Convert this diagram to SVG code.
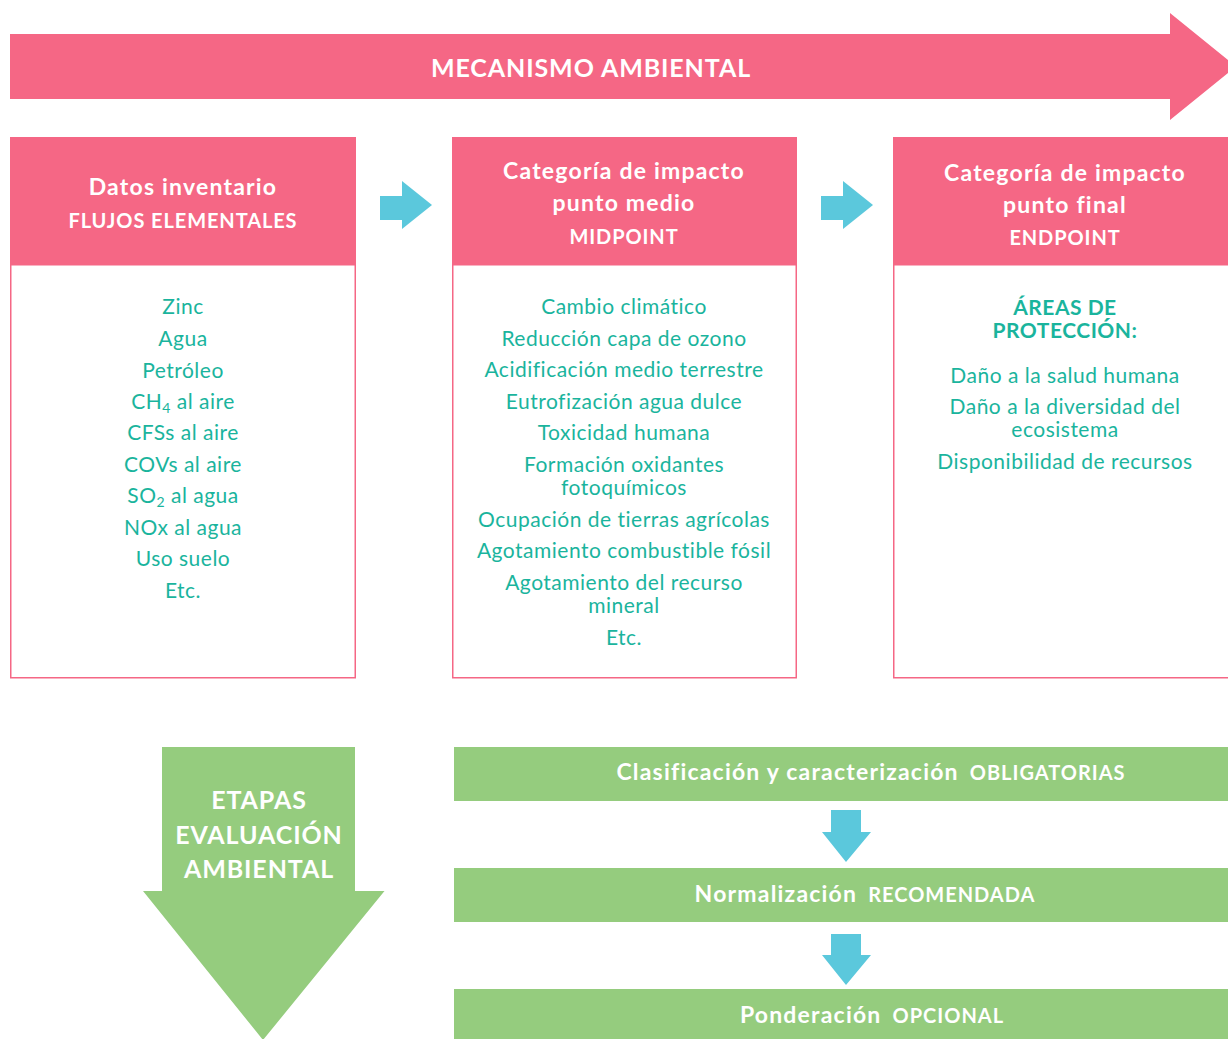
<svg xmlns="http://www.w3.org/2000/svg" width="1228" height="1039" viewBox="0 0 1228 1039">
  <style>
    .pink { fill: #F56785; }
    .green { fill: #95CC7E; }
    .cyan { fill: #5BC8DC; }
    .frame { fill: #FFFFFF; stroke: #F56785; stroke-width: 1.5; }
    .hd { font-family: Lato, "Noto Sans", "Liberation Sans", sans-serif; font-weight: 700; fill: #FFFFFF; text-anchor: middle; }
    .t1 { font-size: 23px; letter-spacing: 1.2px; }
    .t2 { font-size: 20px; letter-spacing: 0.9px; }
    .item { font-family: Lato, "Noto Sans", "Liberation Sans", sans-serif; font-weight: 400; font-size: 21px; letter-spacing: 0.5px; fill: #1AB49D; text-anchor: middle; }
    .strong { font-weight: 700; }
    .sub { font-size: 14px; }
    .step { font-size: 23px; letter-spacing: 1.2px; }
    .tag { font-size: 20px; letter-spacing: 1px; }
  </style>

  <!-- banner arrow across the top -->
  <g id="mecanismo">
    <polygon class="pink" points="10,34 1170,34 1170,13 1236,66.5 1170,120 1170,99 10,99"/>
    <text class="hd" x="591" y="77" font-size="25" letter-spacing="0.9">MECANISMO AMBIENTAL</text>
  </g>

  <!-- column 1: inventory data -->
  <g id="inventario">
    <rect class="frame" x="10.75" y="137.75" width="344.5" height="540"/>
    <rect class="pink" x="10" y="137" width="346" height="128.5"/>
    <text class="hd t1" x="183" y="195">Datos inventario</text>
    <text class="hd t2" x="183" y="228">FLUJOS ELEMENTALES</text>
    <text class="item" x="183" y="314">Zinc</text>
    <text class="item" x="183" y="345.5">Agua</text>
    <text class="item" x="183" y="377.5">Petróleo</text>
    <text class="item" x="183" y="409">CH<tspan class="sub" dy="4">4</tspan><tspan dy="-4"> al aire</tspan></text>
    <text class="item" x="183" y="440">CFSs al aire</text>
    <text class="item" x="183" y="472">COVs al aire</text>
    <text class="item" x="183" y="503">SO<tspan class="sub" dy="4">2</tspan><tspan dy="-4"> al agua</tspan></text>
    <text class="item" x="183" y="535">NOx al agua</text>
    <text class="item" x="183" y="566">Uso suelo</text>
    <text class="item" x="183" y="597.5">Etc.</text>
  </g>

  <!-- column 2: midpoint categories -->
  <g id="midpoint">
    <rect class="frame" x="452.75" y="137.75" width="343.5" height="540"/>
    <rect class="pink" x="452" y="137" width="345" height="128.5"/>
    <text class="hd t1" x="624" y="179">Categoría de impacto</text>
    <text class="hd t1" x="624" y="211">punto medio</text>
    <text class="hd t2" x="624" y="244">MIDPOINT</text>
    <text class="item" x="624" y="314">Cambio climático</text>
    <text class="item" x="624" y="345.5">Reducción capa de ozono</text>
    <text class="item" x="624" y="377">Acidificación medio terrestre</text>
    <text class="item" x="624" y="409">Eutrofización agua dulce</text>
    <text class="item" x="624" y="440">Toxicidad humana</text>
    <text class="item" x="624" y="472">Formación oxidantes</text>
    <text class="item" x="624" y="495">fotoquímicos</text>
    <text class="item" x="624" y="526.5">Ocupación de tierras agrícolas</text>
    <text class="item" x="624" y="557.5">Agotamiento combustible fósil</text>
    <text class="item" x="624" y="590">Agotamiento del recurso</text>
    <text class="item" x="624" y="612.5">mineral</text>
    <text class="item" x="624" y="645">Etc.</text>
  </g>

  <!-- column 3: endpoint categories -->
  <g id="endpoint">
    <rect class="frame" x="893.75" y="137.75" width="340" height="540"/>
    <rect class="pink" x="893" y="137" width="340" height="128.5"/>
    <text class="hd t1" x="1065" y="181">Categoría de impacto</text>
    <text class="hd t1" x="1065" y="213">punto final</text>
    <text class="hd t2" x="1065" y="245">ENDPOINT</text>
    <text class="item strong" x="1065" y="315">ÁREAS DE</text>
    <text class="item strong" x="1065" y="337.5">PROTECCIÓN:</text>
    <text class="item" x="1065" y="382.5">Daño a la salud humana</text>
    <text class="item" x="1065" y="414">Daño a la diversidad del</text>
    <text class="item" x="1065" y="437">ecosistema</text>
    <text class="item" x="1065" y="469">Disponibilidad de recursos</text>
  </g>

  <!-- stage arrow on the left -->
  <g id="etapas">
    <polygon class="green" points="162,747 355,747 355,891 384.5,891 263,1040 143,891 162,891"/>
    <text class="hd" x="259" y="809" font-size="25" letter-spacing="0.9">ETAPAS</text>
    <text class="hd" x="259" y="844" font-size="25" letter-spacing="0.9">EVALUACIÓN</text>
    <text class="hd" x="259" y="878" font-size="25" letter-spacing="0.9">AMBIENTAL</text>
  </g>

  <!-- assessment steps -->
  <g id="clasificacion">
    <rect class="green" x="454" y="747" width="774" height="54"/>
    <text class="hd step" x="871" y="780">Clasificación y caracterización<tspan class="tag" dx="11">OBLIGATORIAS</tspan></text>
  </g>
  <g id="normalizacion">
    <rect class="green" x="454" y="868" width="774" height="54"/>
    <text class="hd step" x="865" y="902">Normalización<tspan class="tag" dx="11">RECOMENDADA</tspan></text>
  </g>
  <g id="ponderacion">
    <rect class="green" x="454" y="989" width="774" height="50"/>
    <text class="hd step" x="872" y="1023">Ponderación<tspan class="tag" dx="11">OPCIONAL</tspan></text>
  </g>

  <!-- block arrows linking the columns and the steps -->
  <g id="connectors">
    <polygon class="cyan" points="380,196 402,196 402,181 432,205 402,229 402,220 380,220"/>
    <polygon class="cyan" points="821,196 843,196 843,181 873,205 843,229 843,220 821,220"/>
    <polygon class="cyan" points="831,810 861,810 861,832 871,832 846,862 822,832 831,832"/>
    <polygon class="cyan" points="831,934 861,934 861,955 871,955 846,985 822,955 831,955"/>
  </g>
</svg>
